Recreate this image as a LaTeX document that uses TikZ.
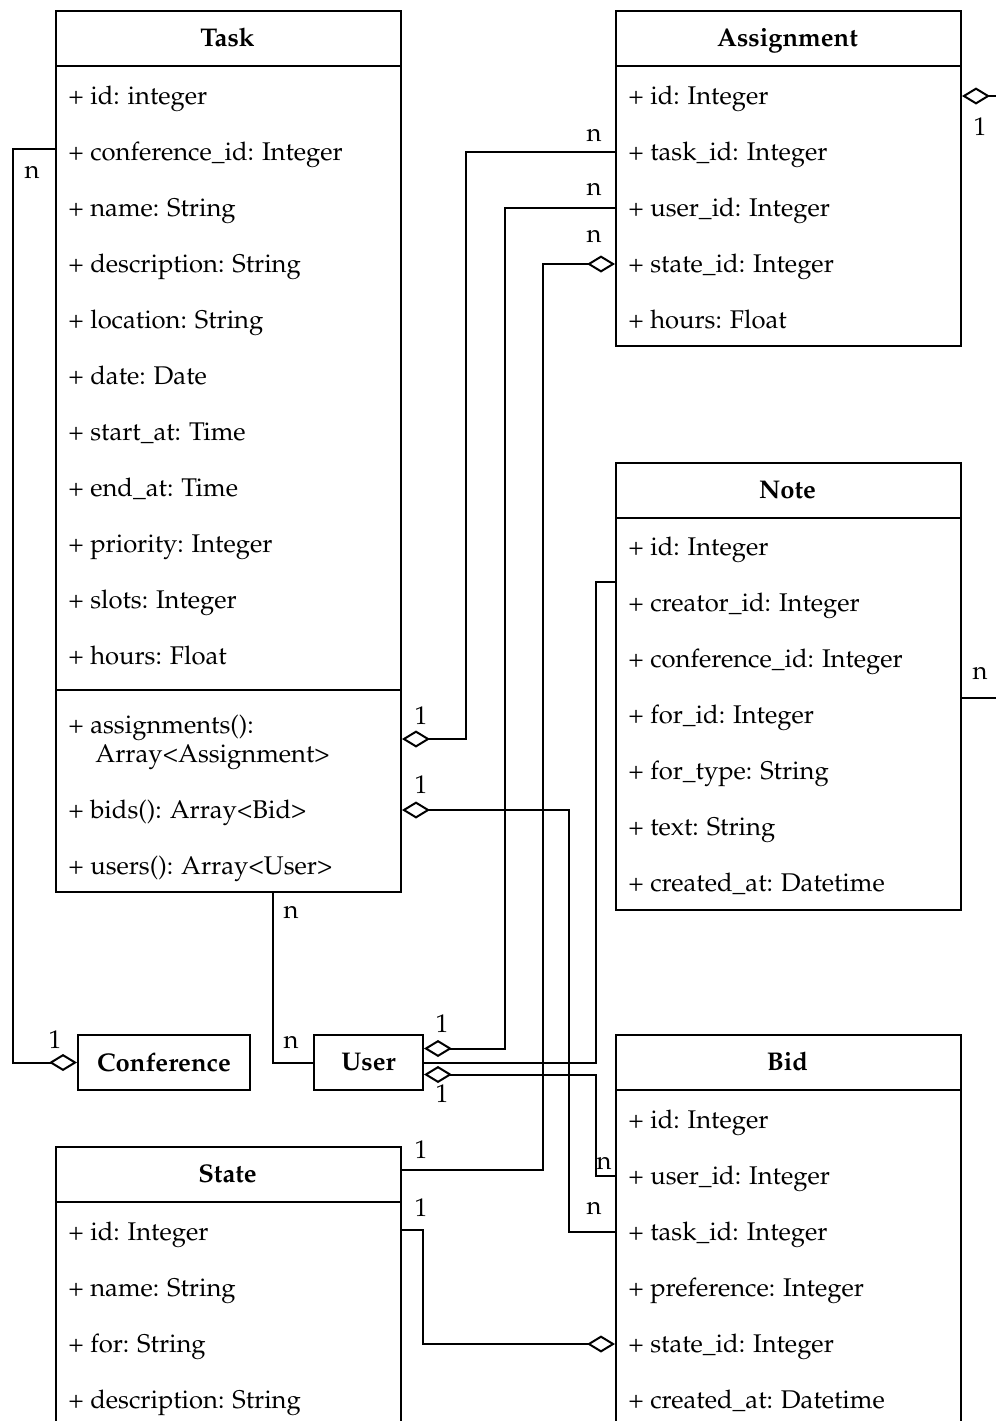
\documentclass[tikz,border=0pt]{standalone}
\usepackage[T1]{fontenc}
\usepackage{mathpazo}
\usetikzlibrary{arrows.meta,calc,positioning}

\tikzset{
  cls/.style={draw, line width=1pt, anchor=north west, inner sep=0pt, minimum width=172.5pt},
  attr/.style={anchor=west, inner sep=0pt, text height=10.4pt, text depth=2.2pt, font=\fontsize{12.8}{14.5}\selectfont},
  ttl/.style={inner sep=0pt, text height=10.4pt, text depth=2.2pt, font=\fontsize{12.8}{14.5}\selectfont\bfseries},
  mult/.style={inner sep=0pt, font=\fontsize{12.8}{14.5}\selectfont},
  link/.style={line width=1pt},
  agg/.style={link, {Diamond[open, length=14pt, width=8.5pt]}-},
  gga/.style={link, -{Diamond[open, length=14pt, width=8.5pt]}}
}

\begin{document}
\begin{tikzpicture}[x=0.5pt, y=-0.5pt]
\useasboundingbox (0,0) rectangle (996,1421);
\clip (0,0) rectangle (996,1421);

% Task
\node[cls, minimum height=440.5pt] (task) at (55,10) {};
\draw[link] ($(task.north west)+(0,56)$) -- ++(345,0);
\draw[link] ($(task.north west)+(0,680)$) -- ++(345,0);
\node[ttl] (task-t) at (227.5,38) {Task};
\foreach \t [count=\i] in {id: integer, conference\_id: Integer, name: String,
    description: String, location: String, date: Date, start\_at: Time,
    end\_at: Time, priority: Integer, slots: Integer, hours: Float}
  \node[attr] (task-a\i) at (68,{96+56*(\i-1)}) {+ \t};
\node[attr, text height=, text depth=, align=left] (task-m1) at (68,742) {+ assignments():\\\hspace{13.5pt}Array<Assignment>};
\node[attr] (task-m2) at (68,810) {+ bids(): Array<Bid>};
\node[attr] (task-m3) at (68,866) {+ users(): Array<User>};

% Assignment
\node[cls, minimum height=167.5pt] (asg) at (615,10) {};
\draw[link] ($(asg.north west)+(0,56)$) -- ++(345,0);
\node[ttl] (asg-t) at (787.5,38) {Assignment};
\foreach \t [count=\i] in {id: Integer, task\_id: Integer, user\_id: Integer,
    state\_id: Integer, hours: Float}
  \node[attr] (asg-a\i) at (628,{96+56*(\i-1)}) {+ \t};

% Note
\node[cls, minimum height=223.5pt] (note) at (615,462) {};
\draw[link] ($(note.north west)+(0,56)$) -- ++(345,0);
\node[ttl] (note-t) at (787.5,490) {Note};
\foreach \t [count=\i] in {id: Integer, creator\_id: Integer, conference\_id: Integer,
    for\_id: Integer, for\_type: String, text: String, created\_at: Datetime}
  \node[attr] (note-a\i) at (628,{547+56*(\i-1)}) {+ \t};

% Bid
\node[cls, minimum height=225pt] (bid) at (615,1034) {};
\draw[link] ($(bid.north west)+(0,56)$) -- ++(345,0);
\node[ttl] (bid-t) at (787.5,1062) {Bid};
\foreach \t [count=\i] in {id: Integer, user\_id: Integer, task\_id: Integer,
    preference: Integer, state\_id: Integer, created\_at: Datetime}
  \node[attr] (bid-a\i) at (628,{1120+56*(\i-1)}) {+ \t};

% State
\node[cls, minimum height=160pt] (state) at (55,1146) {};
\draw[link] ($(state.north west)+(0,56)$) -- ++(345,0);
\node[ttl] (state-t) at (227.5,1174) {State};
\foreach \t [count=\i] in {id: Integer, name: String, for: String, description: String}
  \node[attr] (state-a\i) at (68,{1232+56*(\i-1)}) {+ \t};

% Conference, User
\node[cls, minimum width=86pt, minimum height=27.5pt, font=\fontsize{12.8}{14.5}\selectfont\bfseries] (conf) at (77,1034) {Conference};
\node[cls, minimum width=54.5pt, minimum height=27.5pt, font=\fontsize{12.8}{14.5}\selectfont\bfseries] (user) at (313,1034) {User};

% connectors
\draw[gga] ($(task.north west)+(0,139)$) -- ++(-42,0) |- (conf.west);
\draw[agg] ($(task.north east)+(0,729)$) -- ++(64,0) |- (asg.west |- asg-a2);
\draw[agg] (task.east |- task-m2) -- ++(167,0) |- (bid.west |- bid-a3);
\draw[link] ($(task.south)+(44,0)$) |- (user.west);
\draw[agg] ($(user.east)+(0,-14)$) -- ++(81,0) |- (asg.west |- asg-a3);
\draw[link] (user.east) -- ++(172,0) |- ($(note.north west)+(0,120)$);
\draw[agg] ($(user.east)+(0,12)$) -- ++(172,0) |- (bid.west |- bid-a2);
\draw[gga] ($(state.north east)+(0,24)$) -- ++(141,0) |- (asg.west |- asg-a4);
\draw[gga] ($(state.north east)+(0,84)$) -- ++(21,0) |- (bid.west |- bid-a5);
\draw[agg] (asg.east |- asg-a1) -- ++(60,0);
\draw[link] ($(note.north east)+(0,236)$) -- ++(60,0);

% multiplicities
\node[mult] (m-conf-n) at (32,172) {n};
\node[mult] (m-conf-1) at (55,1040) {1};
\node[mult] (m-asg-1) at (421,716) {1};
\node[mult] (m-asg-n) at (594,135) {n};
\node[mult] (m-bid-1) at (421,785) {1};
\node[mult] (m-bid-n) at (594,1208) {n};
\node[mult] (m-usr-n1) at (291,912) {n};
\node[mult] (m-usr-n2) at (291,1042) {n};
\node[mult] (m-ua-1) at (442,1024) {1};
\node[mult] (m-ua-n) at (594,189) {n};
\node[mult] (m-ub-1) at (442,1094) {1};
\node[mult] (m-ub-n) at (604,1163) {n};
\node[mult] (m-sa-1) at (421,1150) {1};
\node[mult] (m-sa-n) at (594,236) {n};
\node[mult] (m-sb-1) at (421,1208) {1};
\node[mult] (m-out-1) at (980,127) {1};
\node[mult] (m-out-n) at (980,673) {n};
\end{tikzpicture}
\end{document}
